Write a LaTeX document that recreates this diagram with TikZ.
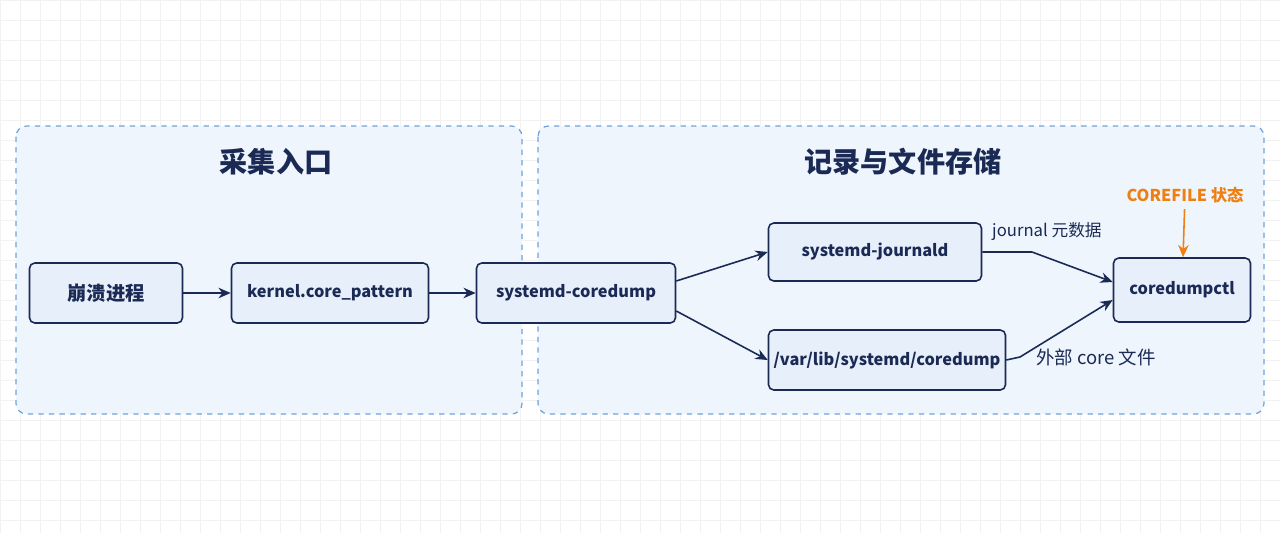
\documentclass[tikz,border=0pt]{standalone}
\usepackage{fontspec}
\setmainfont{Noto Sans CJK SC}
\usetikzlibrary{positioning,arrows.meta}
\definecolor{navy}{HTML}{1B2A55}
\definecolor{boxfill}{HTML}{E6EFFA}
\definecolor{grpfill}{HTML}{EEF5FD}
\definecolor{grpline}{HTML}{6FA3DA}
\definecolor{accent}{HTML}{F07F12}
\tikzset{
  box/.style={draw=navy, line width=0.9pt, rounded corners=3pt, fill=boxfill,
    font=\fontsize{9.3}{12}\selectfont\bfseries, text=navy, minimum height=1.2cm, inner sep=0pt},
  group/.style={draw=grpline, dashed, line width=0.7pt, rounded corners=6pt, fill=grpfill},
  flow/.style={draw=navy, line width=0.9pt, -{Stealth[length=7pt,width=6pt]}},
  lbl/.style={font=\fontsize{10.5}{13}\selectfont, text=navy},
}
\begin{document}
\begin{tikzpicture}[x=0.2mm,y=-0.2mm]
	\useasboundingbox (0,0) rectangle (1280,533);
	\fill[white] (0,0) rectangle (1280,533);
	\foreach \i in {0,20,...,1280} \draw[black!5, line width=0.3pt] (\i,0) -- (\i,533);
	\foreach \j in {0,20,...,520} \draw[black!5, line width=0.3pt] (0,\j) -- (1280,\j);
	%% groups
	\draw[group] (16,126) rectangle (522,414);
	\draw[group] (538,126) rectangle (1264,414);
	\node[font=\fontsize{16}{18}\selectfont\bfseries, text=navy] (t1) at (276,162) {采集入口};
	\node[font=\fontsize{16}{18}\selectfont\bfseries, text=navy] (t2) at (903,162) {记录与文件存储};
	%% nodes
	\node[box, minimum width=153*0.2mm, font=\fontsize{11}{13}\selectfont\bfseries] (crash) at (106,293) {崩溃进程};
	\node[box, minimum width=197*0.2mm] (kern) at (330,293) {kernel.core\_pattern};
	\node[box, minimum width=199*0.2mm] (scd) at (576,293) {systemd-coredump};
	\node[box, minimum width=213*0.2mm, minimum height=1.16cm] (jd) at (875,252) {systemd-journald};
	\node[box, minimum width=237*0.2mm] (var) at (887,360) {/var/lib/systemd/coredump};
	\node[box, minimum width=137*0.2mm, minimum height=1.28cm] (ctl) at (1182,290) {coredumpctl};
	\node[font=\fontsize{9.3}{12}\selectfont\bfseries, text=accent] (state) at (1185,195) {COREFILE 状态};
	\coordinate (jdk) at (1032,252);
	\coordinate (vark) at (1020,357);
	%% edges
	\draw[flow] (crash) -- (kern);
	\draw[flow] (kern) -- (scd);
	\draw[flow] (scd.east) ++(0,-12) -- (jd.west);
	\draw[flow] (scd.east) ++(0,18) -- (var.west);
	\draw[flow] (jd.east) -- (jdk) -- (ctl.west |- 0,282);
	\draw[flow] (var.east) -- (vark) -- (ctl.west |- 0,300);
	\draw[accent, line width=0.9pt, -{Stealth[length=7pt,width=6pt]}] (state) -- (ctl);
	\node[lbl, anchor=west, font=\fontsize{9.5}{12}\selectfont] (l1) at (986,231) {journal 元数据};
	\node[lbl, anchor=west] (l2) at (1030,357) {外部 core 文件};
\end{tikzpicture}
\end{document}
